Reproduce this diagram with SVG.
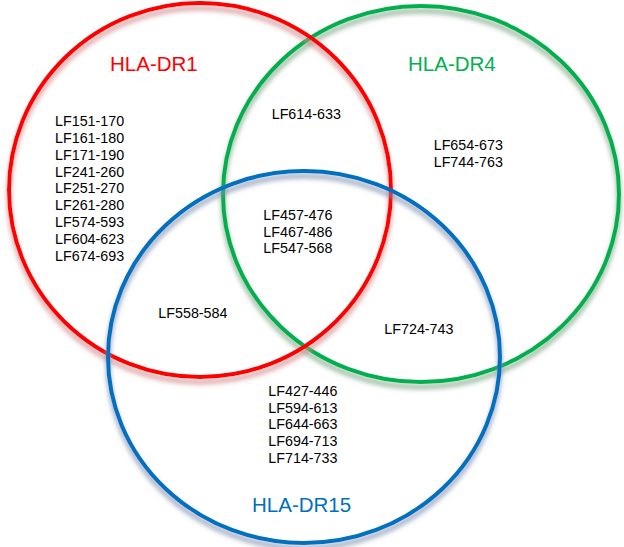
<svg xmlns="http://www.w3.org/2000/svg" width="624" height="547" viewBox="0 0 624 547">
<defs>
<filter id="sh" x="-10%" y="-10%" width="120%" height="125%">
<feGaussianBlur in="SourceGraphic" stdDeviation="2.4" result="b"/>
<feOffset in="b" dy="5" result="o"/>
<feColorMatrix in="o" type="matrix" values="0.5 0.1 0.1 0 0.15 0.1 0.5 0.1 0 0.15 0.1 0.1 0.5 0 0.15 0 0 0 0.9 0" result="c"/>
<feMerge><feMergeNode in="c"/><feMergeNode in="SourceGraphic"/></feMerge>
</filter>
</defs>
<style>
.ring{fill:none;stroke-width:4;filter:url(#sh)}
.t{font-family:"Liberation Sans",Arial,sans-serif;font-size:14.3px;fill:#000}
.h{font-family:"Liberation Sans",Arial,sans-serif;font-size:20.5px}
</style>
<rect width="624" height="547" fill="#fff"/>
<g id="set-dr4">
<ellipse class="ring" cx="421" cy="194" rx="198" ry="188" stroke="#00B050"/>
</g>
<g id="set-dr1">
<ellipse class="ring" cx="200" cy="190" rx="191" ry="187" stroke="#FF0000"/>
</g>
<g id="set-dr15">
<ellipse class="ring" cx="304" cy="357" rx="196" ry="186" stroke="#0070C0"/>
</g>
<g id="label-dr1"><text class="h" x="110" y="71" fill="#FF0000">HLA-DR1</text></g>
<g id="label-dr4"><text class="h" x="408" y="71" fill="#00B050">HLA-DR4</text></g>
<g id="label-dr15"><text class="h" x="252" y="512" fill="#0070C0">HLA-DR15</text></g>
<g id="region-dr1-only">
<text class="t" x="55" y="126">LF151-170</text>
<text class="t" x="55" y="142.85">LF161-180</text>
<text class="t" x="55" y="159.7">LF171-190</text>
<text class="t" x="55" y="176.55">LF241-260</text>
<text class="t" x="55" y="193.4">LF251-270</text>
<text class="t" x="55" y="210.25">LF261-280</text>
<text class="t" x="55" y="227.1">LF574-593</text>
<text class="t" x="55" y="243.95">LF604-623</text>
<text class="t" x="55" y="260.8">LF674-693</text>
</g>
<g id="region-dr1-dr4">
<text class="t" x="271.7" y="119">LF614-633</text>
</g>
<g id="region-dr4-only">
<text class="t" x="433.7" y="150">LF654-673</text>
<text class="t" x="433.7" y="166.7">LF744-763</text>
</g>
<g id="region-all">
<text class="t" x="263.3" y="220">LF457-476</text>
<text class="t" x="263.3" y="236.7">LF467-486</text>
<text class="t" x="263.3" y="253.4">LF547-568</text>
</g>
<g id="region-dr1-dr15">
<text class="t" x="158.3" y="318.3">LF558-584</text>
</g>
<g id="region-dr4-dr15">
<text class="t" x="384.3" y="334">LF724-743</text>
</g>
<g id="region-dr15-only">
<text class="t" x="268.3" y="396">LF427-446</text>
<text class="t" x="268.3" y="412.7">LF594-613</text>
<text class="t" x="268.3" y="429.4">LF644-663</text>
<text class="t" x="268.3" y="446.1">LF694-713</text>
<text class="t" x="268.3" y="462.8">LF714-733</text>
</g>
</svg>
